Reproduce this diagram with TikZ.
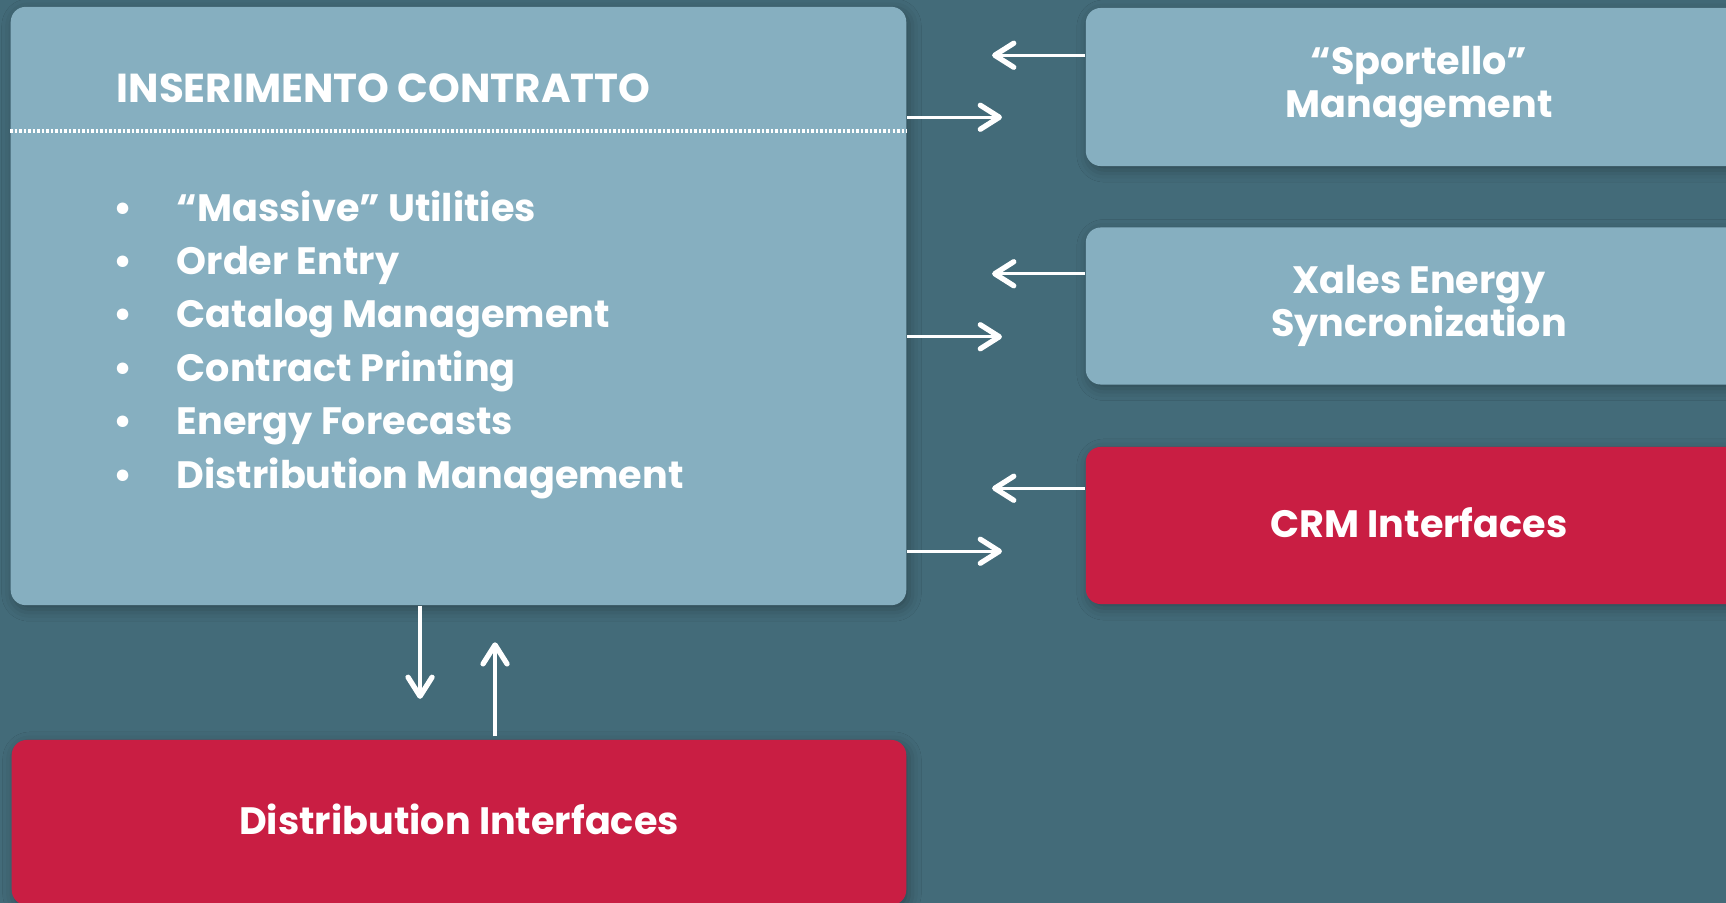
\documentclass[tikz,border=0pt]{standalone}
\usepackage{fontspec}
\setmainfont{Poppins}
\usepackage{xcolor}
\usepackage{tikz}
\usetikzlibrary{
  arrows.meta,
  positioning,
  calc,
  shadows.blur
}
\definecolor{PanelTeal}{HTML}{436B79}
\definecolor{PanelBlue}{HTML}{86AFC0}
\definecolor{PanelRed}{HTML}{C91E43}
\definecolor{PanelWhite}{HTML}{FFFFFF}

\begin{document}
\begin{tikzpicture}[
    x=0.01cm, y=-0.01cm,
    every node/.style={font=\fontsize{10.85}{12.3}\selectfont\bfseries,
      text=PanelWhite, inner sep=0pt},
    card/.style={rounded corners=0.15cm, align=center,
      blur shadow={shadow xshift=0.03cm, shadow yshift=-0.04cm,
        shadow blur radius=0.12cm, shadow opacity=30}},
    flow/.style={PanelWhite, line width=0.9pt,
      -{Straight Barb[length=0.19cm, width=0.24cm, line width=1.5pt, round]}}
  ]
    % canvas
    \useasboundingbox (0,0) rectangle (1726,903);
    \clip (0,0) rectangle (1726,903);
    \fill[PanelTeal] (0,0) rectangle (1726,903);
    % main panel
    \node[card, fill=PanelBlue, minimum width=8.95cm, minimum height=5.98cm]
      (main) at (458.5,306) {};
    \node[anchor=base west, font=\fontsize{11.5}{13}\selectfont\bfseries]
      (title) at (116,102) {INSERIMENTO CONTRATTO};
    \draw[PanelWhite, line width=0.03cm, dash pattern=on 0.025cm off 0.02cm]
      (main.west |- 0,131) -- (main.east |- 0,131);
    % feature list
    \foreach \i/\txt in {
      0/{“Massive” Utilities},
      1/{Order Entry},
      2/{Catalog Management},
      3/{Contract Printing},
      4/{Energy Forecasts},
      5/{Distribution Management}
    }{
      \node[anchor=base] (dot\i) at (123,221+53.4*\i) {•};
      \node[anchor=base west] (item\i) at (176,221+53.4*\i) {\txt};
    }
    % side cards
    \node[card, fill=PanelBlue, minimum width=6.66cm, minimum height=1.58cm]
      (sport) at (1419,87) {“Sportello”\\Management};
    \node[card, fill=PanelBlue, minimum width=6.66cm, minimum height=1.57cm]
      (xales) at (1419,306) {Xales Energy\\Syncronization};
    \node[card, fill=PanelRed, minimum width=6.66cm, minimum height=1.57cm,
      text depth=0.06cm] (crm) at (1419,525.5) {CRM Interfaces};
    \node[card, fill=PanelRed, minimum width=8.94cm, minimum height=1.65cm,
      text depth=0.06cm] (dist) at (459,822.5) {Distribution Interfaces};
    % exchanges
    \foreach \card/\inY/\outY in {sport/48/110, xales/47/110, crm/42/105}{
      \draw[flow] ($(\card.north west)+(0,\inY)$) -- ++(-93,0);
      \draw[flow] ($(main.east |- \card.north west)+(0,\outY)$) -- ++(95,0);
    }
    \draw[flow] ($(main.south west)+(410,0)$) -- ++(0,93);
    \draw[flow] ($(dist.north west)+(484,-3)$) -- ++(0,-94);
  \end{tikzpicture}
\end{document}
